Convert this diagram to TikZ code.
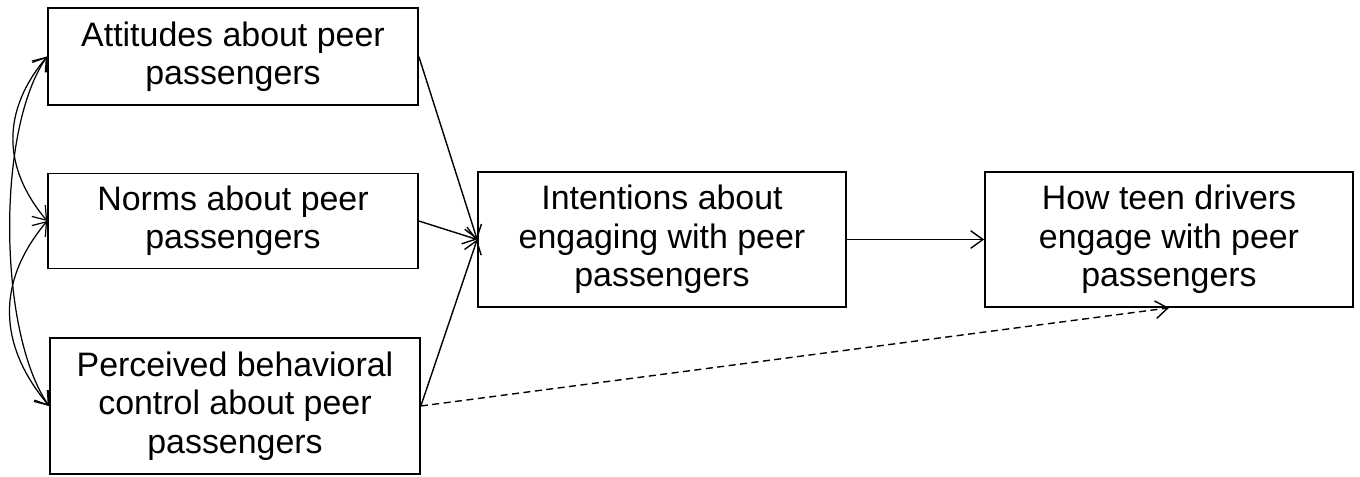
\documentclass[tikz,border=0pt]{standalone}
\usepackage{fontspec}
\setmainfont{Liberation Sans}
\usetikzlibrary{arrows.meta}
\tikzstyle{belief-node}=[fill=white,rectangle,draw,line width=1pt,inner sep=0pt,minimum width=7.4cm,align=center,font=\fontsize{19.3}{21.8}\selectfont]
\tikzstyle{outcome-node}=[fill=white,rectangle,draw,line width=1pt,inner sep=0pt,minimum width=7.36cm,minimum height=2.7cm,align=center,font=\fontsize{19.3}{21.8}\selectfont]
\tikzstyle{path-arrow}=[line width=0.8pt,-{Straight Barb[length=7pt,width=10pt]}]
\tikzstyle{corr-arrow}=[line width=0.7pt,{Straight Barb[length=7pt,width=10pt]}-{Straight Barb[length=7pt,width=10pt]}]

\begin{document}
\begin{tikzpicture}[x=0.02cm,y=-0.02cm]
        \useasboundingbox (0,0) rectangle (1360,477);
        \begin{scope}
            \node[belief-node,minimum height=1.95cm] at (233,56.5) (att) {Attitudes about peer\\passengers};
            \node[belief-node,minimum height=1.9cm] at (233,221) (norm) {Norms about peer\\passengers};
            \node[belief-node,minimum height=2.72cm] at (235,406) (pbc) {Perceived behavioral\\control about peer\\passengers};
            \node[outcome-node] at (662,239.5) (int) {Intentions about\\engaging with peer\\passengers};
            \node[outcome-node] at (1169,239.5) (beh) {How teen drivers\\engage with peer\\passengers};

            \foreach \a in {att, norm, pbc}
                \draw[path-arrow] (\a.east) -- (int.west);
            \draw[path-arrow] (int.east) -- (beh.west);
            \draw[path-arrow,dash pattern=on 0.14cm off 0.09cm] (pbc.east) -- (beh.south);

            % correlations between the three belief boxes
            \draw[corr-arrow] (att.west) to[out=230,in=130,looseness=1.1] (norm.west);
            \draw[corr-arrow] (norm.west) to[out=230,in=130,looseness=1.1] (pbc.west);
            \draw[corr-arrow] (att.west) to[out=235,in=125,looseness=0.65] (pbc.west);
        \end{scope}
    \end{tikzpicture}
\end{document}
